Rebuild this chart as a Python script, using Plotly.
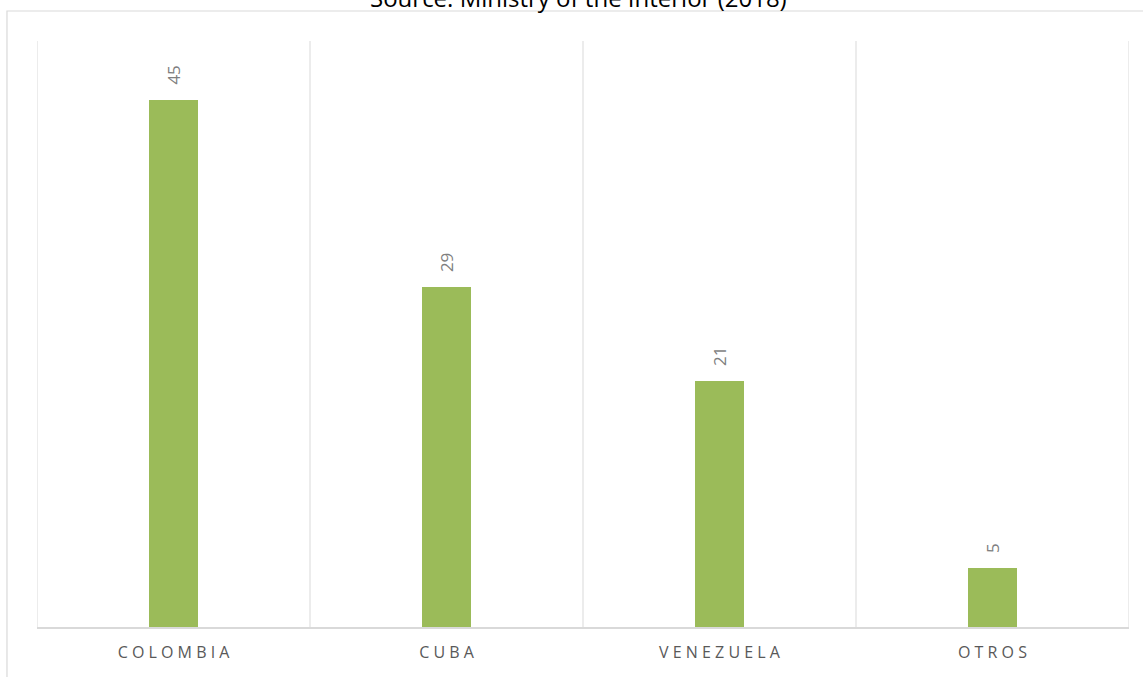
import plotly.graph_objects as go

categories = ["COLOMBIA", "CUBA", "VENEZUELA", "OTROS"]
values = [45, 29, 21, 5]
title_text = "Source: Ministry of the Interior (2018)"

def spaced(s):
    return " ".join(list(s))

tick_labels = [spaced(c) for c in categories]
xs = list(range(len(categories)))

fig = go.Figure()
fig.add_trace(go.Bar(
    x=xs, y=values, width=0.183,
    marker=dict(color="#9BBB59", line=dict(width=0)),
    hoverinfo="x+y",
))

shapes = []
for i in range(len(categories) + 1):
    shapes.append(dict(type="line", xref="x", yref="paper", x0=i - 0.5, x1=i - 0.5,
                       y0=0, y1=1, line=dict(color="#d9d9d9", width=1), layer="below"))
shapes.append(dict(type="rect", xref="paper", yref="paper", x0=-0.0275, x1=1.03,
                   y0=-0.3, y1=1.0512, line=dict(color="#d9d9d9", width=1.2),
                   fillcolor="rgba(0,0,0,0)", layer="below"))

annotations = [dict(text=str(v), x=x, y=v, xref="x", yref="y", textangle=-90,
                    xanchor="center", yanchor="bottom", yshift=13, showarrow=False,
                    font=dict(family="Open Sans", size=17, color="#7f7f7f"))
               for x, v in zip(xs, values)]
annotations.append(dict(text=title_text, xref="paper", yref="paper", x=0.496, y=1,
                        xanchor="center", yanchor="middle", yshift=44, showarrow=False,
                        font=dict(family="Open Sans", size=24, color="#000000")))

fig.update_layout(
    width=1143, height=677,
    margin=dict(l=37, r=14, t=41, b=50),
    paper_bgcolor="white", plot_bgcolor="white",
    showlegend=False, bargap=0,
    shapes=shapes,
    xaxis=dict(range=[-0.5, len(categories) - 0.5], tickmode="array", tickvals=xs,
               ticktext=tick_labels, showgrid=False, zeroline=False, automargin=False,
               showline=True, linecolor="#d9d9d9", linewidth=1.5, ticks="",
               ticklabelstandoff=10,
               tickfont=dict(family="Open Sans", size=16, color="#595959")),
    yaxis=dict(range=[0, 50], showgrid=False, zeroline=False, showticklabels=False,
               showline=False, ticks="", automargin=False),
    annotations=annotations,
)

fig.write_html("out.html")
